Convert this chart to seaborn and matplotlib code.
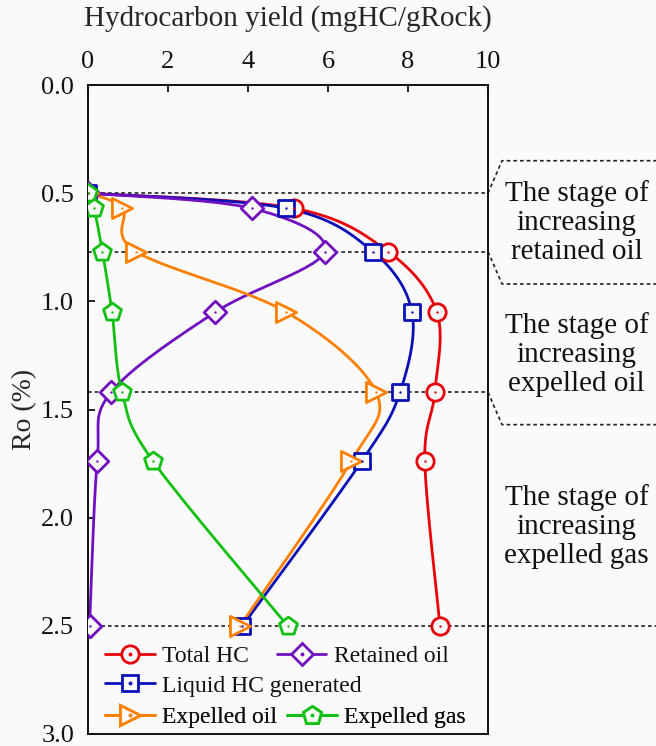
import numpy as np
import pandas as pd
import matplotlib
matplotlib.use("Agg")
import matplotlib.pyplot as plt
import seaborn as sns
from matplotlib.lines import Line2D
from matplotlib.legend_handler import HandlerTuple

# ---------------- data ----------------
ro = [0.5, 0.57, 0.77, 1.05, 1.42, 1.74, 2.5]
total_hc = [0.0, 5.15, 7.5, 8.72, 8.67, 8.42, 8.8]
liquid_hc = [0.0, 4.95, 7.12, 8.1, 7.8, 6.84, 3.86]
retained_oil = [0.0, 4.09, 5.92, 3.18, 0.58, 0.23, 0.04]
expelled_oil = [0.0, 0.86, 1.2, 4.96, 7.2, 6.58, 3.8]
expelled_gas = [0.0, 0.15, 0.36, 0.6, 0.85, 1.63, 4.99]

series_names = ["Total HC", "Liquid HC generated", "Retained oil",
                "Expelled oil", "Expelled gas"]
series_values = [total_hc, liquid_hc, retained_oil, expelled_oil, expelled_gas]
colors = ["#e8000b", "#0a10b8", "#7010c0", "#ff8000", "#12c012"]
markers = ["o", "s", "D", ">", "p"]
msizes = [12.5, 12, 11.5, 14.5, 13.5]

x_ticks = [0, 2, 4, 6, 8, 10]
y_ticks = [0.0, 0.5, 1.0, 1.5, 2.0, 2.5, 3.0]
stage_bounds = [0.5, 0.77, 1.42, 2.5]
stage_texts = ["The stage of\nincreasing\nretained oil",
               "The stage of\nincreasing\nexpelled oil",
               "The stage of\nincreasing\nexpelled gas"]
stage_text_ro = [0.635, 1.245, 2.04]

xlabel = "Hydrocarbon yield (mgHC/gRock)"
ylabel = "Ro (%)"

# ---------------- style ----------------
sns.set_style("ticks")
BG = "#fafafa"
plt.rcParams["font.family"] = ["Liberation Serif", "DejaVu Serif"]
plt.rcParams["axes.linewidth"] = 1.4
plt.rcParams["text.color"] = "#111111"


def smooth(xs, ys, n=30):
    P = np.column_stack([xs, ys]).astype(float)
    Pext = np.vstack([P[0], P, P[-1]])
    out = []
    for i in range(len(P) - 1):
        p0, p1, p2, p3 = Pext[i], Pext[i + 1], Pext[i + 2], Pext[i + 3]
        c1 = p1 + (p2 - p0) / 6.0
        c2 = p2 - (p3 - p1) / 6.0
        t = np.linspace(0, 1, n, endpoint=(i == len(P) - 2))[:, None]
        seg = ((1 - t) ** 3) * p1 + 3 * ((1 - t) ** 2) * t * c1 \
            + 3 * (1 - t) * (t ** 2) * c2 + (t ** 3) * p2
        out.append(seg)
    return np.vstack(out)


fig = plt.figure(figsize=(6.56, 7.46), dpi=100, facecolor=BG)
ax = fig.add_axes([88 / 656, 1 - 734 / 746, 400 / 656, 649 / 746])
ax.set_facecolor(BG)

# stage boundary lines inside the plot
for b in stage_bounds:
    ax.plot([0, 10], [b, b], color="#222222", lw=1.2,
            linestyle=(0, (2.2, 1.8)), zorder=1)

# curves
for name, vals, c in zip(series_names, series_values, colors):
    sm = smooth(vals, ro)
    df = pd.DataFrame({"x": sm[:, 0], "y": sm[:, 1]})
    sns.lineplot(data=df, x="x", y="y", sort=False, estimator=None,
                 color=c, lw=2.0, ax=ax, zorder=2)

# markers
for name, vals, c, m, ms in zip(series_names, series_values, colors, markers, msizes):
    df = pd.DataFrame({"x": vals, "y": ro})
    sns.scatterplot(data=df, x="x", y="y", marker=m, s=ms ** 2,
                    facecolor=BG, edgecolor=c, linewidth=2.0, ax=ax, zorder=3)
    sns.scatterplot(data=df, x="x", y="y", marker="o", s=3,
                    color=c, linewidth=0, ax=ax, zorder=4)

ax.set_xlim(0, 10)
ax.set_ylim(3.0, 0.0)
ax.xaxis.tick_top()
ax.xaxis.set_label_position("top")
ax.set_xticks(x_ticks)
ax.set_xticklabels([str(v) for v in x_ticks])
ax.set_yticks(y_ticks)
ax.set_yticklabels([f"{v:.1f}" for v in y_ticks])
ax.tick_params(axis="both", direction="in", length=5, width=1.3,
               labelsize=19, colors="#111111")
ax.tick_params(axis="x", pad=9)
ax.tick_params(axis="y", pad=10)
ax.set_xlabel(xlabel, fontsize=21, labelpad=18)
ax.set_ylabel(ylabel, fontsize=20, labelpad=3)
for s in ax.spines.values():
    s.set_visible(True)
    s.set_color("#111111")

# right-side brackets (outside axes)
xr_edge, xr_slant = 14.2, 10.35
off = 0.15
brk = dict(color="#222222", lw=1.2, linestyle=(0, (2.2, 1.8)), clip_on=False)
ax.plot([10, xr_slant, xr_edge], [stage_bounds[0], stage_bounds[0] - off,
                                  stage_bounds[0] - off], **brk)
ax.plot([10, xr_slant, xr_edge], [stage_bounds[1], stage_bounds[1] + off,
                                  stage_bounds[1] + off], **brk)
ax.plot([10, xr_slant, xr_edge], [stage_bounds[2], stage_bounds[2] + off,
                                  stage_bounds[2] + off], **brk)
ax.plot([10, xr_edge], [stage_bounds[3], stage_bounds[3]], **brk)

for txt, yv in zip(stage_texts, stage_text_ro):
    ax.text(12.22, yv, txt, ha="center", va="center", fontsize=21,
            linespacing=1.14, clip_on=False)

# legend (three rows)
def handle(i):
    ln = Line2D([0], [0], color=colors[i], lw=2.0, marker=markers[i],
                ms=msizes[i], mfc=BG, mec=colors[i], mew=2.0)
    dot = Line2D([0], [0], color=colors[i], lw=0, marker="o", ms=1.8)
    return (ln, dot)

rows = [[0, 2], [1], [3, 4]]
row_y_px = [656, 686, 717]
colspace = [1.2, 1.0, 0.45]
for r, ypx, cs in zip(rows, row_y_px, colspace):
    leg = ax.legend([handle(i) for i in r], [series_names[i] for i in r],
                    handler_map={tuple: HandlerTuple(ndivide=1, pad=0)},
                    loc="center left", bbox_to_anchor=(105 / 656, 1 - ypx / 746),
                    bbox_transform=fig.transFigure, ncol=len(r), frameon=False,
                    fontsize=17, handlelength=2.1, handletextpad=0.3,
                    columnspacing=cs, borderpad=0, borderaxespad=0)
    ax.add_artist(leg)

fig.savefig("out.png", dpi=100, facecolor=BG)
